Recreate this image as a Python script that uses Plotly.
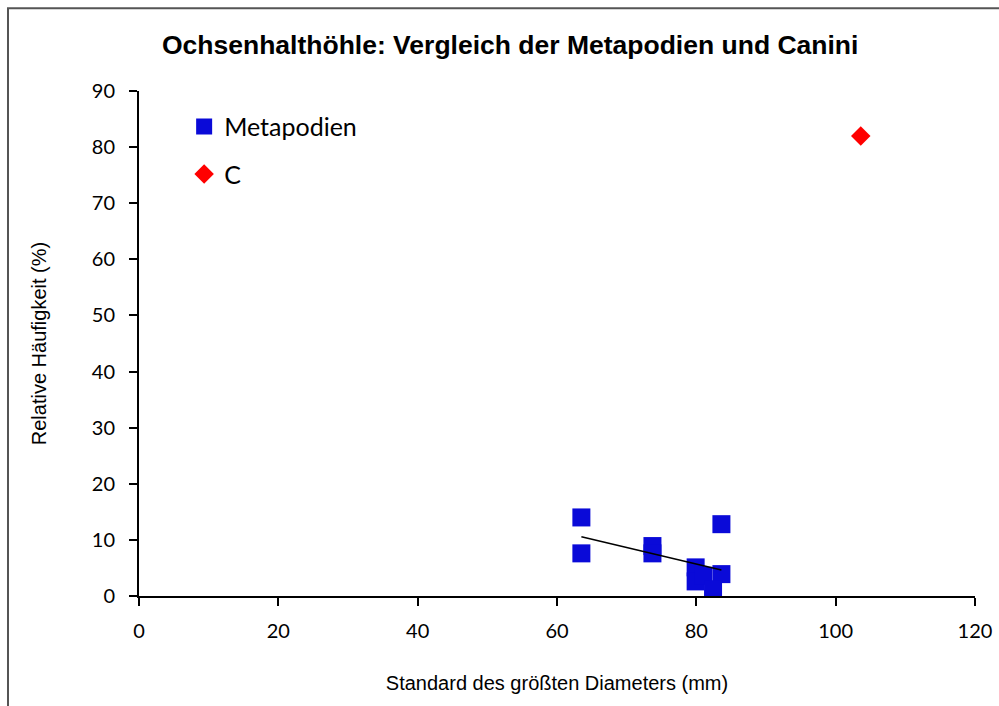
import numpy as np
import plotly.graph_objects as go

# Metapodien: standard of largest diameter (mm) vs relative frequency (%)
meta_x = [63.5, 63.5, 73.7, 73.7, 83.6, 79.9, 79.9, 81.0, 83.6, 82.4]
meta_y = [14.0, 7.6, 8.9, 7.6, 12.8, 5.1, 2.6, 3.6, 3.9, 1.2]

# Canini
canini_x = [103.6]
canini_y = [82.0]

x_ticks = [0, 20, 40, 60, 80, 100, 120]
y_ticks = [0, 10, 20, 30, 40, 50, 60, 70, 80, 90]

# linear trendline over the Metapodien range
slope, intercept = np.polyfit(meta_x, meta_y, 1)
trend_x = np.array([min(meta_x), max(meta_x)])
trend_y = slope * trend_x + intercept

fig = go.Figure()
fig.add_trace(
    go.Scatter(
        x=meta_x,
        y=meta_y,
        mode="markers",
        name="Metapodien",
        legendgroup="a",
        marker=dict(symbol="square", size=18, color="#0a0ad8"),
    )
)
fig.add_trace(
    go.Scatter(
        x=canini_x,
        y=canini_y,
        mode="markers",
        name="C",
        legendgroup="b",
        marker=dict(symbol="diamond", size=15, color="#ff0000"),
    )
)
fig.add_trace(
    go.Scatter(
        x=trend_x,
        y=trend_y,
        mode="lines",
        line=dict(color="black", width=1.5),
        showlegend=False,
        hoverinfo="skip",
    )
)

# outer chart border
fig.add_shape(
    type="rect", xref="paper", yref="paper",
    x0=-0.1567, x1=1.2, y0=-0.4, y1=1.164,
    line=dict(color="#555555", width=2),
)

fig.update_layout(
    width=999,
    height=706,
    margin=dict(l=139, r=24, t=91, b=110),
    plot_bgcolor="white",
    paper_bgcolor="white",
    title=dict(
        text="<b>Ochsenhalthöhle: Vergleich der Metapodien und Canini</b>",
        x=0.444, xref="paper", y=0.936, yref="container",
        xanchor="center", yanchor="middle",
        font=dict(family="Liberation Sans, Arial", size=26.5, color="black"),
    ),
    legend=dict(
        x=0.054, y=0.975, xanchor="left", yanchor="top",
        font=dict(family="Lato, Calibri", size=25, color="black"),
        bgcolor="rgba(0,0,0,0)",
        traceorder="grouped",
        tracegroupgap=12,
        itemwidth=30,
    ),
    showlegend=True,
)
fig.update_xaxes(
    range=[0, 120],
    tickvals=x_ticks,
    automargin=False,
    ticklabeloverflow="allow",
    showgrid=False,
    zeroline=False,
    showline=True,
    linecolor="black",
    linewidth=2,
    ticks="outside",
    ticklen=8,
    tickwidth=2,
    tickcolor="black",
    ticklabelstandoff=8,
    tickfont=dict(family="Lato, Calibri", size=20, color="black"),
    title=dict(
        text="Standard des größten Diameters (mm)",
        font=dict(family="Liberation Sans, Arial", size=20, color="black"),
        standoff=35,
    ),
)
fig.update_yaxes(
    range=[0, 90],
    tickvals=y_ticks,
    automargin=False,
    showgrid=False,
    zeroline=False,
    showline=True,
    linecolor="black",
    linewidth=2,
    ticks="outside",
    ticklen=8,
    tickwidth=2,
    tickcolor="black",
    ticklabelstandoff=10,
    tickfont=dict(family="Lato, Calibri", size=20, color="black"),
    title=dict(
        text="Relative Häufigkeit (%)",
        font=dict(family="Liberation Sans, Arial", size=20, color="black"),
        standoff=40,
    ),
)

# drop the default page margin so the 999x706 figure fills the window
fig.write_html(
    "out.html",
    config={"displayModeBar": False},
    post_script="document.body.style.margin='0';",
)
